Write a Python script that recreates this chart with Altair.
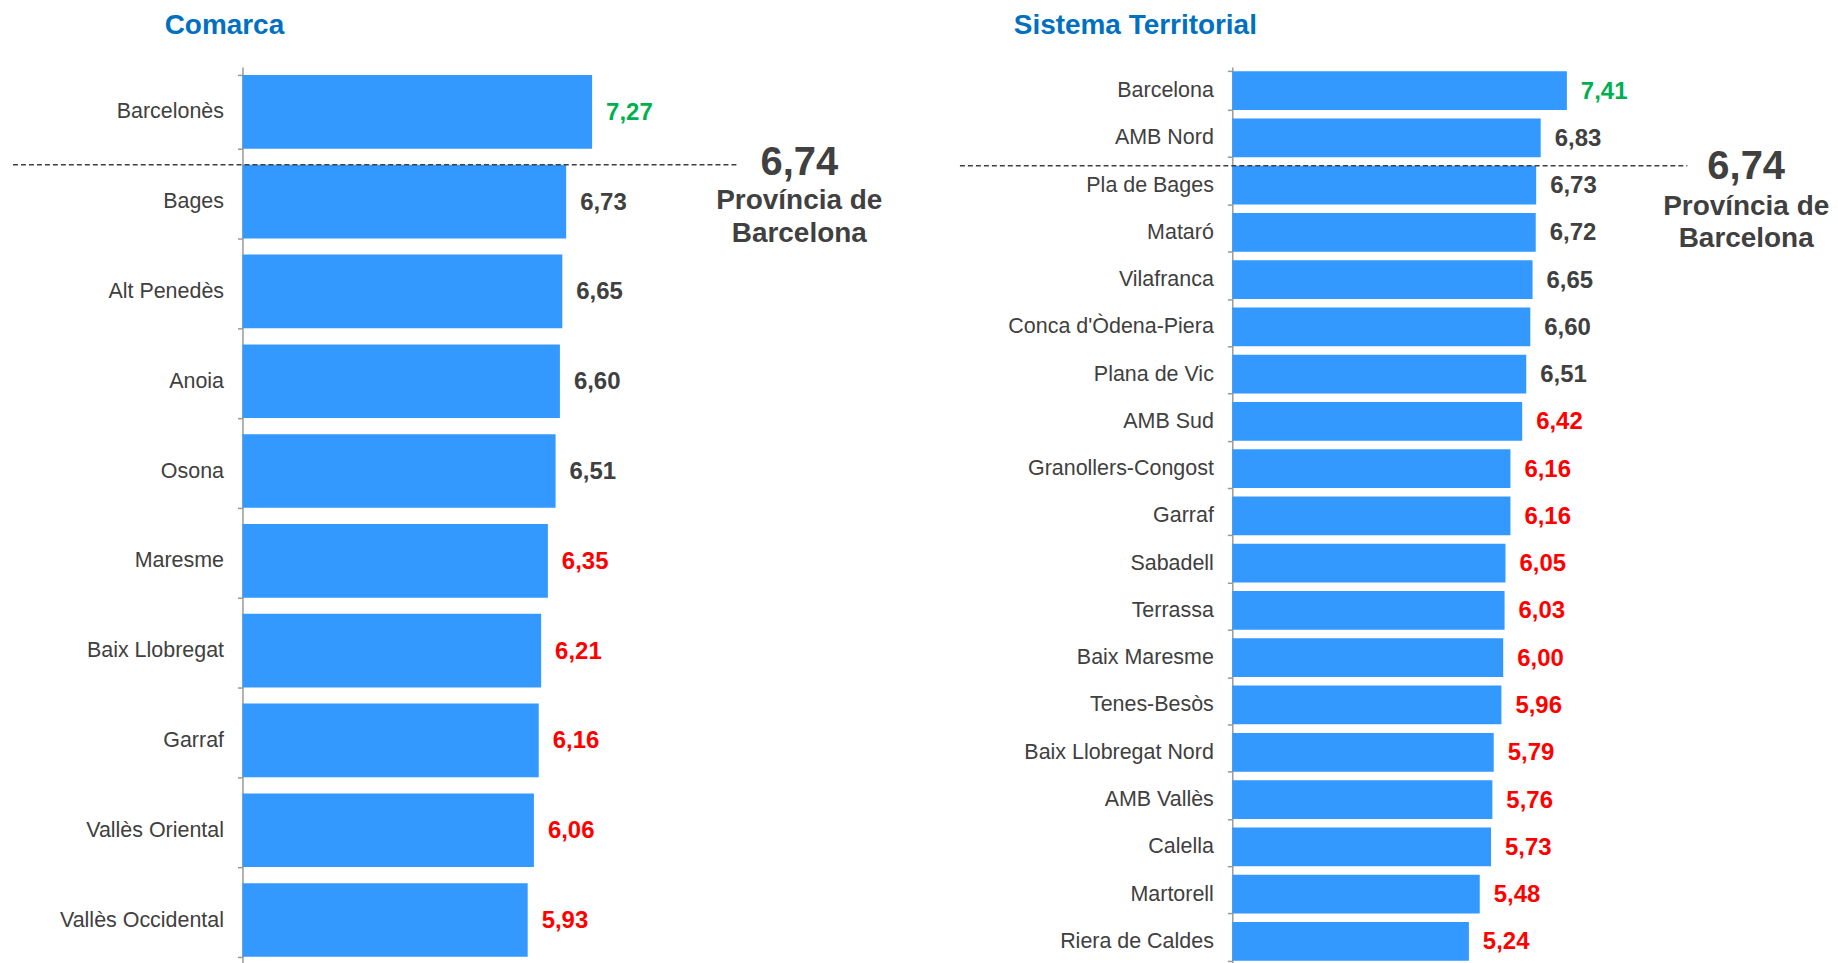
import altair as alt
import pandas as pd

# ---- data ----
comarca_names = ["Barcelonès", "Bages", "Alt Penedès", "Anoia", "Osona", "Maresme",
                 "Baix Llobregat", "Garraf", "Vallès Oriental", "Vallès Occidental"]
comarca_values = [7.27, 6.73, 6.65, 6.60, 6.51, 6.35, 6.21, 6.16, 6.06, 5.93]

sistema_names = ["Barcelona", "AMB Nord", "Pla de Bages", "Mataró", "Vilafranca",
                 "Conca d'Òdena-Piera", "Plana de Vic", "AMB Sud", "Granollers-Congost",
                 "Garraf", "Sabadell", "Terrassa", "Baix Maresme", "Tenes-Besòs",
                 "Baix Llobregat Nord", "AMB Vallès", "Calella", "Martorell", "Riera de Caldes"]
sistema_values = [7.41, 6.83, 6.73, 6.72, 6.65, 6.60, 6.51, 6.42, 6.16, 6.16,
                  6.05, 6.03, 6.00, 5.96, 5.79, 5.76, 5.73, 5.48, 5.24]

province_value = 6.74
province_lines = ["Província de", "Barcelona"]
titles = ["Comarca", "Sistema Territorial"]

FONT = "Arial, Liberation Sans, sans-serif"
DARK = "#404040"


def fmt(v):
    return f"{v:.2f}".replace(".", ",")


def make_panel(names, values, title, px_per_unit, width, axis_extent, title_dx,
               rule_x, rule_x2, ann_x, ann_ys):
    df = pd.DataFrame({"name": names, "value": values})
    df["label"] = df["value"].map(fmt)
    df["cls"] = ["high" if v > 7 else ("low" if v < 6.5 else "mid") for v in values]

    axis = alt.Axis(title=None, domainColor="#9a9a9a", domainWidth=1.5,
                    tickColor="#9a9a9a", tickWidth=1.5, tickSize=5, tickBand="extent",
                    labelFont=FONT, labelFontSize=21.5, labelColor=DARK, labelPadding=14,
                    minExtent=axis_extent, maxExtent=axis_extent, labelLimit=400)
    yscale = alt.Scale(paddingInner=0.18, paddingOuter=0.09)
    y = alt.Y("name:N", sort=names, scale=yscale, axis=axis)
    x = alt.X("value:Q", scale=alt.Scale(domain=[0, width / px_per_unit], nice=False),
              axis=None)

    bars = alt.Chart(df).mark_bar(color="#3399FF").encode(y=y, x=x)
    labels = alt.Chart(df).mark_text(
        align="left", baseline="middle", dx=14, dy=1, fontSize=24, fontWeight="bold", font=FONT
    ).encode(
        y=y, x=x, text="label:N",
        color=alt.Color("cls:N", scale=alt.Scale(domain=["high", "mid", "low"],
                                                 range=["#00B050", DARK, "#FF0000"]),
                        legend=None),
    )

    first_below = next(n for n, v in zip(names, values) if v < province_value)
    rule = alt.Chart(pd.DataFrame({"name": [first_below]})).mark_rule(
        strokeDash=[5, 3], color="#404040", strokeWidth=1.5
    ).encode(
        y=alt.Y("name:N", sort=names, scale=yscale, axis=axis, bandPosition=0),
        x=alt.value(rule_x), x2=alt.value(rule_x2),
    )

    big = alt.Chart(pd.DataFrame({"t": [fmt(province_value)]})).mark_text(
        align="center", baseline="alphabetic", fontSize=40, fontWeight="bold",
        font=FONT, color=DARK
    ).encode(x=alt.value(ann_x), y=alt.value(ann_ys[0]), text="t:N")
    line1 = alt.Chart(pd.DataFrame({"t": [province_lines[0]]})).mark_text(
        align="center", baseline="alphabetic", fontSize=28, fontWeight="bold",
        font=FONT, color=DARK
    ).encode(x=alt.value(ann_x), y=alt.value(ann_ys[1]), text="t:N")
    line2 = alt.Chart(pd.DataFrame({"t": [province_lines[1]]})).mark_text(
        align="center", baseline="alphabetic", fontSize=28, fontWeight="bold",
        font=FONT, color=DARK
    ).encode(x=alt.value(ann_x), y=alt.value(ann_ys[2]), text="t:N")

    return alt.layer(bars, labels, rule, big, line1, line2).properties(
        width=width, height=900,
        title=alt.TitleParams(text=title, anchor="start", frame="group", dx=title_dx,
                              fontSize=28, font=FONT, fontWeight="bold",
                              color="#0070C0", offset=16),
    )


left = make_panel(comarca_names, comarca_values, titles[0], 48.2, 660, 230, -78,
                  -230, 498, 558, [108, 142, 175])
right = make_panel(sistema_names, sistema_values, titles[1], 45.25, 560, 273, -219,
                   -273, 456, 515, [112, 148, 180])

chart = alt.hconcat(left, right, spacing=58).properties(
    padding={"left": 4, "top": 3, "right": 0, "bottom": 0}
).configure_view(strokeWidth=0)

chart.save("out.html", embed_options={"renderer": "svg", "actions": False})
